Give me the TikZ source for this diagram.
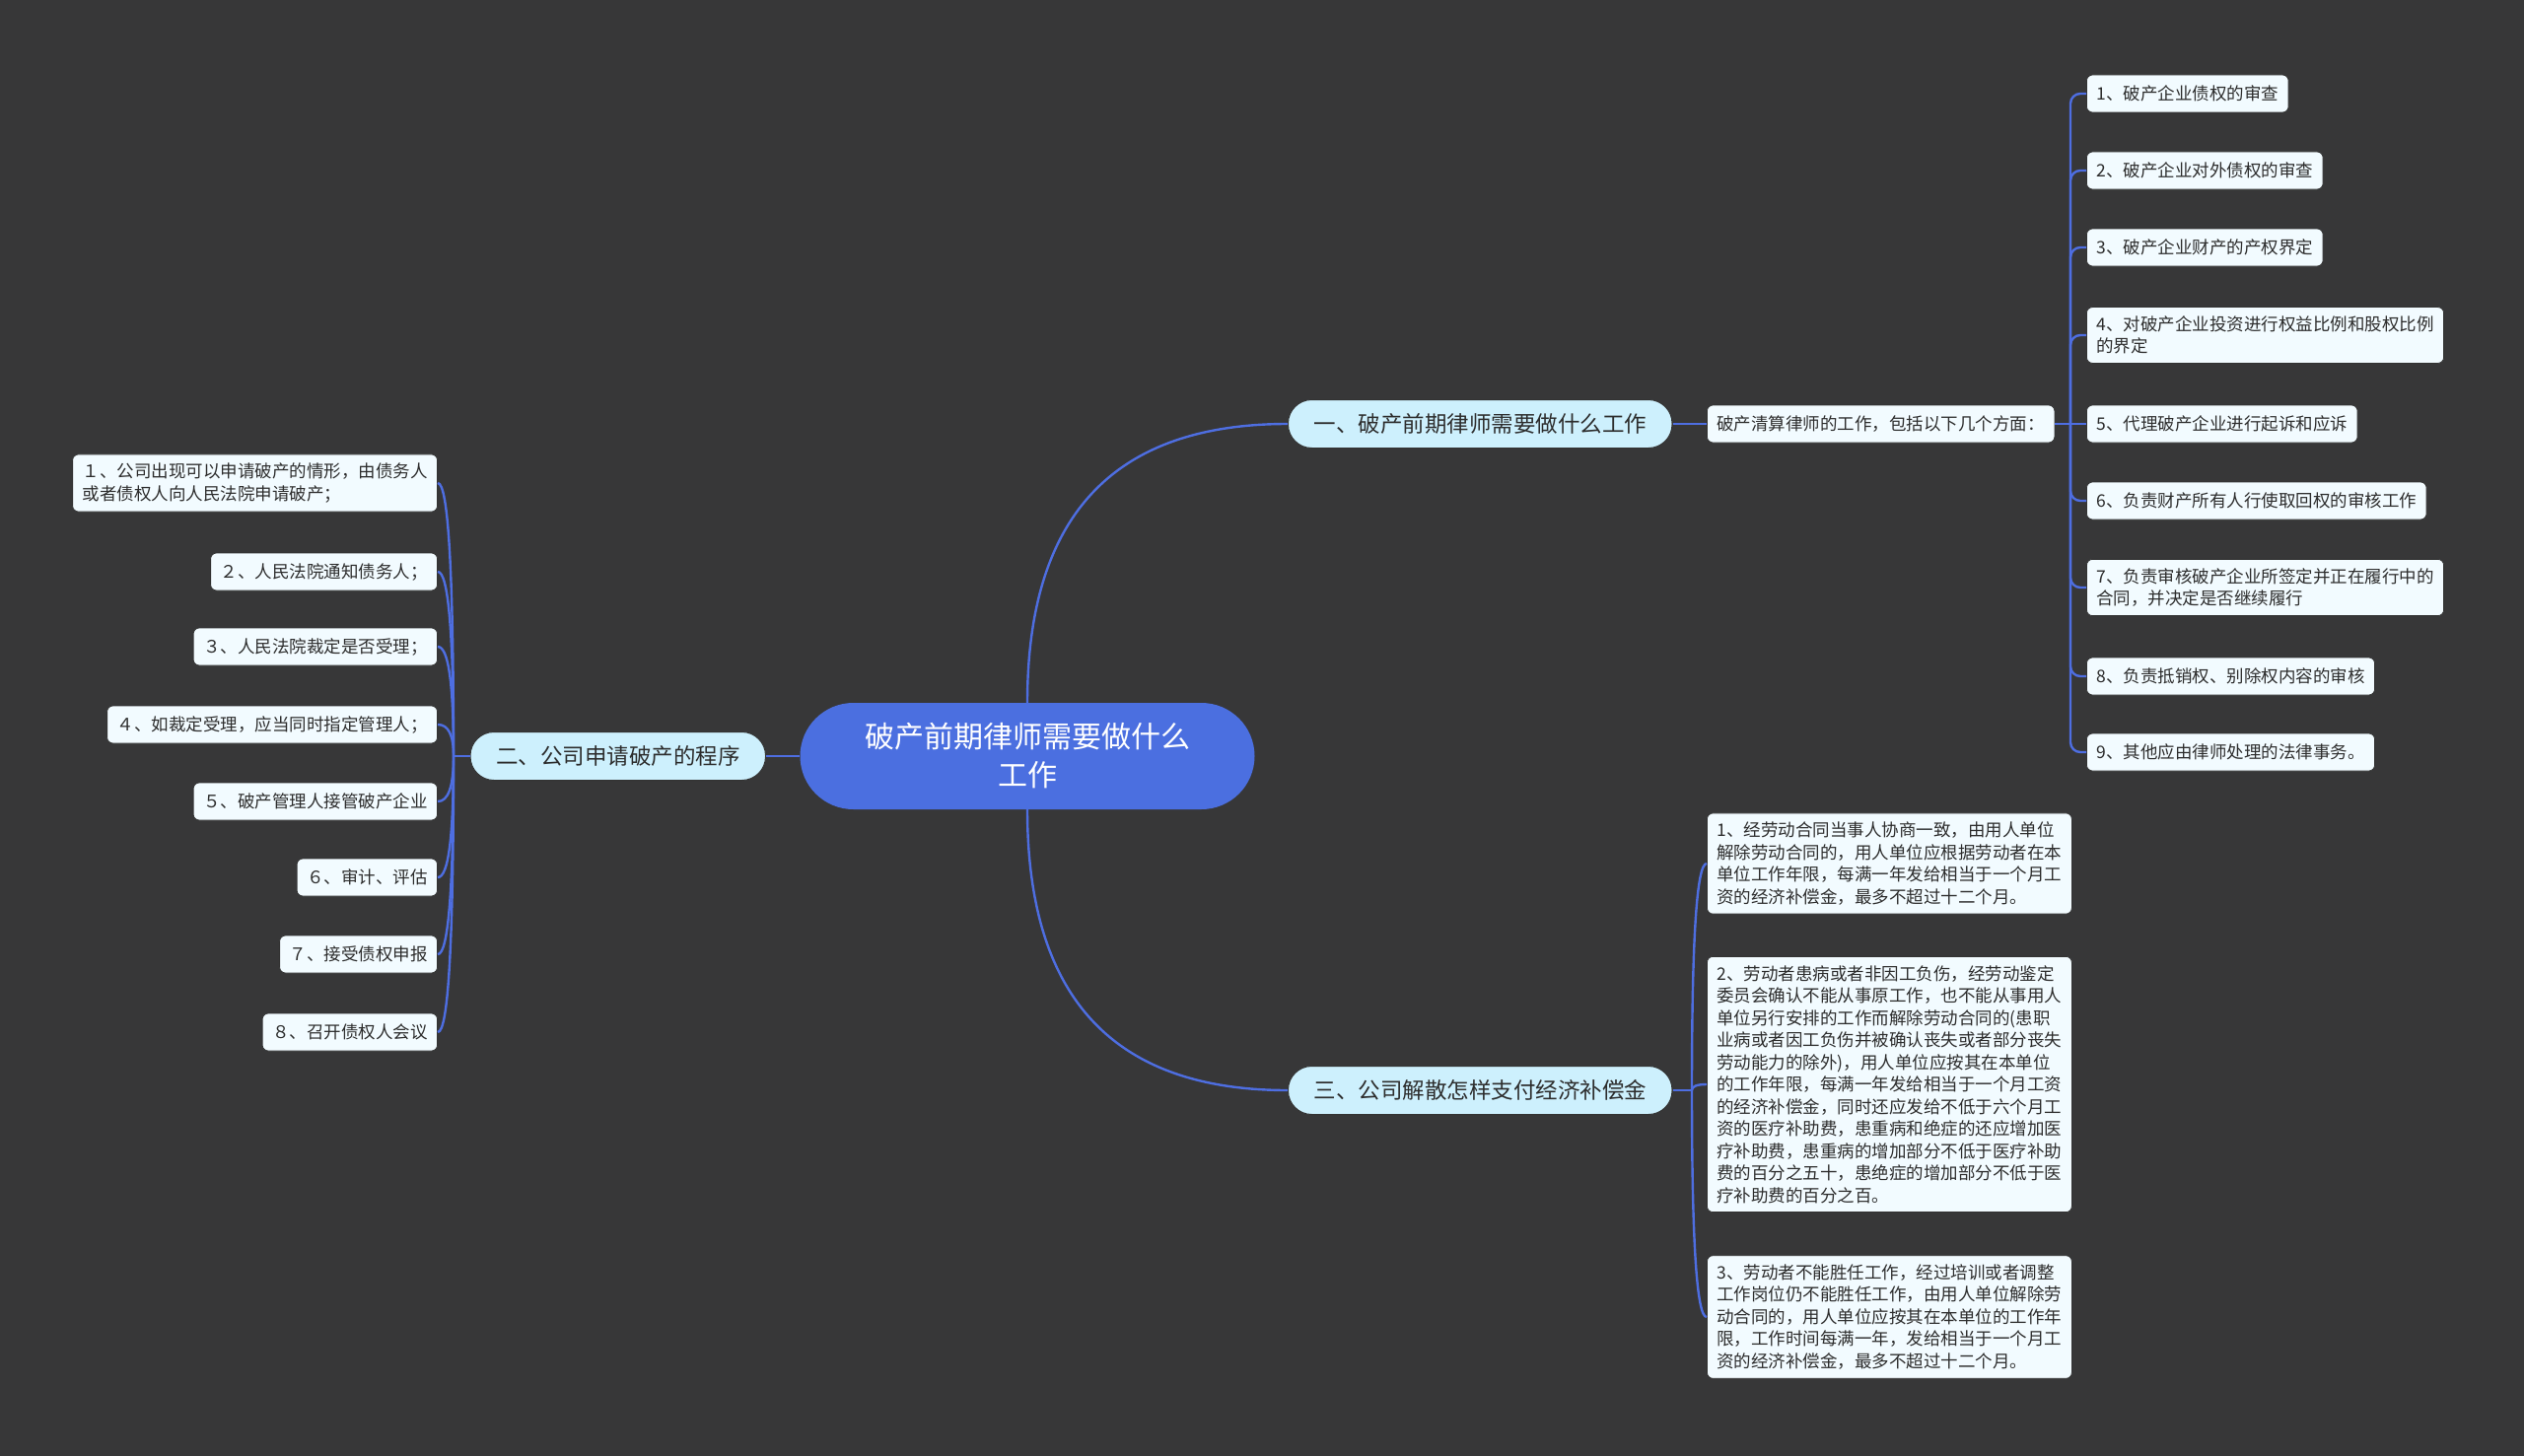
\documentclass[tikz,border=0pt]{standalone}
\usepackage{fontspec}
\newfontfamily\cjk{Noto Sans CJK SC}
\usetikzlibrary{positioning, calc}

\definecolor{bgcol}{RGB}{55,55,56}
\definecolor{linkcol}{RGB}{78,110,225}
\definecolor{rootcol}{RGB}{75,111,224}
\definecolor{branchcol}{RGB}{205,240,253}
\definecolor{leafcol}{RGB}{242,251,255}
\definecolor{textcol}{RGB}{45,45,45}

\newcommand{\rootfont}{\cjk\fontsize{30pt}{39pt}\selectfont}
\newcommand{\branchfont}{\cjk\fontsize{22.5pt}{28pt}\selectfont}
\newcommand{\leaffont}{\cjk\fontsize{17.5pt}{22.5pt}\selectfont}
% smooth bend: vertical out of #1, horizontal into #2
\newcommand{\bendlink}[2]{%
  \draw[link] (#1) .. controls ($(#1)!.67!(#1 |- #2)$) and ($(#2)!.67!(#1 |- #2)$) .. (#2);}

\begin{document}
\begin{tikzpicture}[
      x=1pt, y=-1pt,
      rootbox/.style={fill=rootcol, text=white, rounded corners=54pt, minimum width=461pt, minimum height=108pt, align=center, font=\rootfont},
      branchbox/.style={draw=black!80, line width=1pt, fill=branchcol, text=textcol, rounded corners=24pt, minimum height=49pt, inner xsep=26pt, font=\branchfont},
      leafbox/.style={draw=black!80, line width=0.8pt, fill=leafcol, text=textcol, rounded corners=6pt, minimum height=38pt, inner xsep=10pt, inner ysep=9pt, align=left, font=\leaffont},
      link/.style={draw=linkcol, line width=2.4pt}
    ]
      % background
      \path[fill=bgcol] (0,0) rectangle (2560,1477);

      % Root
      \node (root) [rootbox] at (1042,767) {破产前期律师需要做什么\\工作};

      % Branch 1: right top
      \node (b1) [branchbox, anchor=west] at (1306,430) {一、破产前期律师需要做什么工作};
      \node (sub) [leafbox, anchor=west] at (1731,430) {破产清算律师的工作，包括以下几个方面：};
      \coordinate (j1) at (2100,430);

      \node (r1) [leafbox, anchor=west] at (2116,95) {1、破产企业债权的审查};
      \node (r2) [leafbox, anchor=west] at (2116,173) {2、破产企业对外债权的审查};
      \node (r3) [leafbox, anchor=west] at (2116,251) {3、破产企业财产的产权界定};
      \node (r4) [leafbox, anchor=west] at (2116,340) {4、对破产企业投资进行权益比例和股权比例\\的界定};
      \node (r5) [leafbox, anchor=west] at (2116,430) {5、代理破产企业进行起诉和应诉};
      \node (r6) [leafbox, anchor=west] at (2116,508) {6、负责财产所有人行使取回权的审核工作};
      \node (r7) [leafbox, anchor=west] at (2116,596) {7、负责审核破产企业所签定并正在履行中的\\合同，并决定是否继续履行};
      \node (r8) [leafbox, anchor=west] at (2116,686) {8、负责抵销权、别除权内容的审核};
      \node (r9) [leafbox, anchor=west] at (2116,763) {9、其他应由律师处理的法律事务。};

      % Branch 2: left
      \node (b2) [branchbox, anchor=east] at (777,767) {二、公司申请破产的程序};
      \coordinate (j2) at (460,767);

      \node (l1) [leafbox, anchor=east] at (444,490) {１、公司出现可以申请破产的情形，由债务人\\或者债权人向人民法院申请破产；};
      \node (l2) [leafbox, anchor=east] at (444,580) {２、人民法院通知债务人；};
      \node (l3) [leafbox, anchor=east] at (444,656) {３、人民法院裁定是否受理；};
      \node (l4) [leafbox, anchor=east] at (444,735) {４、如裁定受理，应当同时指定管理人；};
      \node (l5) [leafbox, anchor=east] at (444,813) {５、破产管理人接管破产企业};
      \node (l6) [leafbox, anchor=east] at (444,890) {６、审计、评估};
      \node (l7) [leafbox, anchor=east] at (444,968) {７、接受债权申报};
      \node (l8) [leafbox, anchor=east] at (444,1047) {８、召开债权人会议};

      % Branch 3: right bottom
      \node (b3) [branchbox, anchor=west] at (1306,1106) {三、公司解散怎样支付经济补偿金};
      \coordinate (j3) at (1716,1106);

      \node (c1) [leafbox, anchor=west] at (1731,876) {%
        1、经劳动合同当事人协商一致，由用人单位\\
        解除劳动合同的，用人单位应根据劳动者在本\\
        单位工作年限，每满一年发给相当于一个月工\\
        资的经济补偿金，最多不超过十二个月。};
      \node (c2) [leafbox, anchor=west] at (1731,1100) {%
        2、劳动者患病或者非因工负伤，经劳动鉴定\\
        委员会确认不能从事原工作，也不能从事用人\\
        单位另行安排的工作而解除劳动合同的(患职\\
        业病或者因工负伤并被确认丧失或者部分丧失\\
        劳动能力的除外)，用人单位应按其在本单位\\
        的工作年限，每满一年发给相当于一个月工资\\
        的经济补偿金，同时还应发给不低于六个月工\\
        资的医疗补助费，患重病和绝症的还应增加医\\
        疗补助费，患重病的增加部分不低于医疗补助\\
        费的百分之五十，患绝症的增加部分不低于医\\
        疗补助费的百分之百。};
      \node (c3) [leafbox, anchor=west] at (1731,1336) {%
        3、劳动者不能胜任工作，经过培训或者调整\\
        工作岗位仍不能胜任工作，由用人单位解除劳\\
        动合同的，用人单位应按其在本单位的工作年\\
        限，工作时间每满一年，发给相当于一个月工\\
        资的经济补偿金，最多不超过十二个月。};

      % Connectors
      \bendlink{root.north}{b1.west}
      \bendlink{root.south}{b3.west}
      \draw[link] (root.west) -- (b2.east);

      \draw[link] (b1.east) -- (sub.west);
      \draw[link] (sub.east) -- (j1);
      \draw[link, rounded corners=10pt] (j1) |- (r1.west);
      \draw[link, rounded corners=10pt] (j1) |- (r2.west);
      \draw[link, rounded corners=10pt] (j1) |- (r3.west);
      \draw[link, rounded corners=10pt] (j1) |- (r4.west);
      \draw[link] (j1) -- (r5.west);
      \draw[link, rounded corners=10pt] (j1) |- (r6.west);
      \draw[link, rounded corners=10pt] (j1) |- (r7.west);
      \draw[link, rounded corners=10pt] (j1) |- (r8.west);
      \draw[link, rounded corners=10pt] (j1) |- (r9.west);

      \draw[link] (b2.west) -- (j2);
      \bendlink{j2}{l1.east}
      \bendlink{j2}{l2.east}
      \bendlink{j2}{l3.east}
      \bendlink{j2}{l4.east}
      \bendlink{j2}{l5.east}
      \bendlink{j2}{l6.east}
      \bendlink{j2}{l7.east}
      \bendlink{j2}{l8.east}

      \draw[link] (b3.east) -- (j3);
      \bendlink{j3}{c1.west}
      \bendlink{j3}{c2.west}
      \bendlink{j3}{c3.west}
    \end{tikzpicture}
\end{document}
